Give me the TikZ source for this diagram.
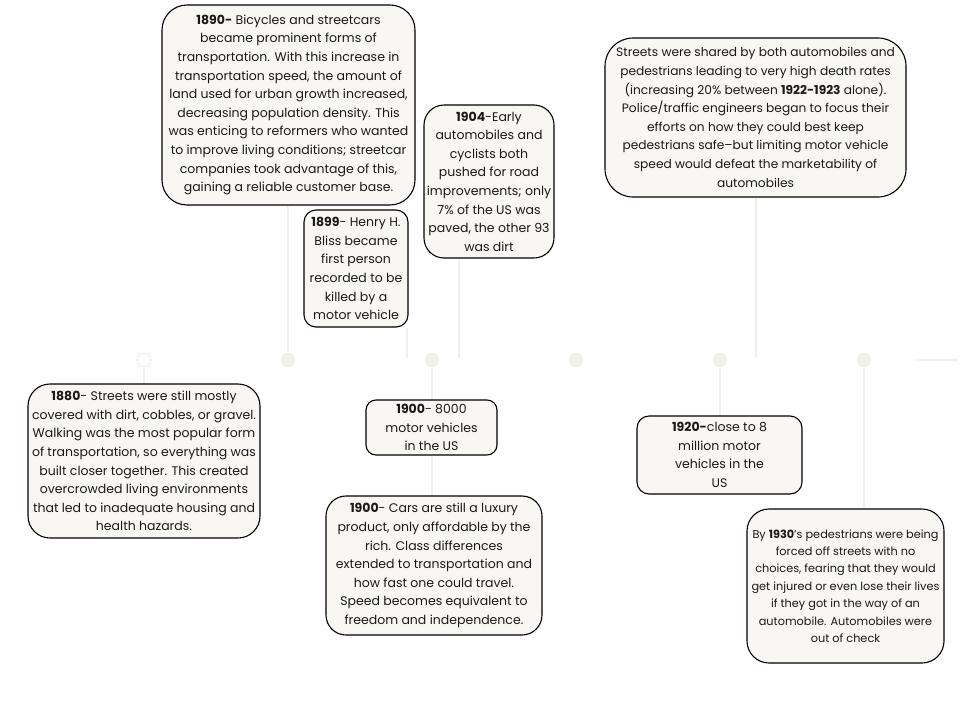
\documentclass[tikz,border=0pt]{standalone}
\usepackage{fontspec}
\setmainfont{Poppins}
\usetikzlibrary{arrows.meta}
\definecolor{boxfill}{HTML}{F8F7F3}
\definecolor{tl}{HTML}{F1F0EA}
\begin{document}
\begin{tikzpicture}[x=1pt,y=-1pt,
  card/.style={draw=black, line width=1.1pt, fill=boxfill, inner sep=0pt, align=center,
    font=\fontsize{12.5}{18.6}\selectfont, text=black!90},
  widecard/.style={card, font=\fontsize{12.2}{18.6}\selectfont},
  smallcard/.style={card, font=\fontsize{11.3}{17.4}\selectfont},
  dot/.style={circle, fill=tl, draw=none, inner sep=0pt, minimum size=15pt},
  hdot/.style={circle, draw=tl, line width=1.3pt, fill=white, inner sep=0pt, minimum size=14pt},
  link/.style={draw=tl, line width=1.8pt}]
\useasboundingbox (0,0) rectangle (960,720);

% timeline dots
\node[hdot] (d0) at (144,360) {};
\node[dot] (d1) at (288,360) {};
\node[dot] (d2) at (432,360) {};
\node[dot] (d3) at (576,360) {};
\node[dot] (d4) at (720,360) {};
\node[dot] (d5) at (864,360) {};
\coordinate (a0) at (917,360);
\coordinate (a1) at (958,360);
\coordinate (e1899) at (407,358);
\coordinate (e1904) at (459,358);
\coordinate (estreets) at (756,358);

% cards
\node[card, rounded corners=25pt, minimum width=253pt, minimum height=200pt] (b1890) at (288.5,105) {%
\textbf{1890-} Bicycles and streetcars\\
became prominent forms of\\
transportation. With this increase in\\
transportation speed, the amount of\\
land used for urban growth increased,\\
decreasing population density. This\\
was enticing to reformers who wanted\\
to improve living conditions; streetcar\\
companies took advantage of this,\\
gaining a reliable customer base.};

\node[card, rounded corners=12pt, minimum width=104pt, minimum height=117pt] (b1899) at (356,268.5) {%
\textbf{1899}- Henry H.\\
Bliss became\\
first person\\
recorded to be\\
killed by a\\
motor vehicle};

\node[card, rounded corners=20pt, minimum width=130pt, minimum height=153pt] (b1904) at (489,181.5) {%
\textbf{1904}-Early\\
automobiles and\\
cyclists both\\
pushed for road\\
improvements; only\\
7\% of the US was\\
paved, the other 93\\
was dirt};

\node[widecard, rounded corners=28pt, minimum width=301pt, minimum height=159pt] (bstreets) at (755.5,117.5) {%
Streets were shared by both automobiles and\\
pedestrians leading to very high death rates\\
(increasing 20\% between \textbf{1922-1923} alone).\\
Police/traffic engineers began to focus their\\
efforts on how they could best keep\\
pedestrians safe–but limiting motor vehicle\\
speed would defeat the marketability of\\
automobiles};

\node[card, rounded corners=22pt, minimum width=232pt, minimum height=154pt] (b1880) at (144,461) {%
\textbf{1880}- Streets were still mostly\\
covered with dirt, cobbles, or gravel.\\
Walking was the most popular form\\
of transportation, so everything was\\
built closer together. This created\\
overcrowded living environments\\
that led to inadequate housing and\\
health hazards.};

\node[card, rounded corners=10pt, minimum width=131pt, minimum height=55pt] (b1900a) at (431.5,427.5) {%
\textbf{1900}- 8000\\
motor vehicles\\
in the US};

\node[card, rounded corners=20pt, minimum width=216pt, minimum height=139pt] (b1900b) at (434,565.5) {%
\textbf{1900}- Cars are still a luxury\\
product, only affordable by the\\
rich. Class differences\\
extended to transportation and\\
how fast one could travel.\\
Speed becomes equivalent to\\
freedom and independence.};

\node[card, rounded corners=12pt, minimum width=165pt, minimum height=78pt] (b1920) at (719.5,455) {%
\textbf{1920-}close to 8\\
million motor\\
vehicles in the\\
US};

\node[smallcard, rounded corners=22pt, minimum width=197pt, minimum height=154pt] (b1930) at (845.5,586) {%
By \textbf{1930}’s pedestrians were being\\
forced off streets with no\\
choices, fearing that they would\\
get injured or even lose their lives\\
if they got in the way of an\\
automobile. Automobiles were\\
out of check};

% connectors
\draw[link] (d0) -- (d0 |- b1880.north);
\draw[link] (b1890.south -| d1) -- (d1);
\draw[link] (b1899.south -| e1899) -- (e1899);
\draw[link] (b1904.south -| e1904) -- (e1904);
\draw[link] (d2) -- (d2 |- b1900a.north);
\draw[link] (b1900a.south -| d2) -- (d2 |- b1900b.north);
\draw[link] (bstreets.south -| estreets) -- (estreets);
\draw[link] (d4) -- (d4 |- b1920.north);
\draw[link] (d5) -- (d5 |- b1930.north);
\draw[link, -{Stealth[length=4pt,width=5pt]}] (a0) -- (a1);
\end{tikzpicture}
\end{document}
